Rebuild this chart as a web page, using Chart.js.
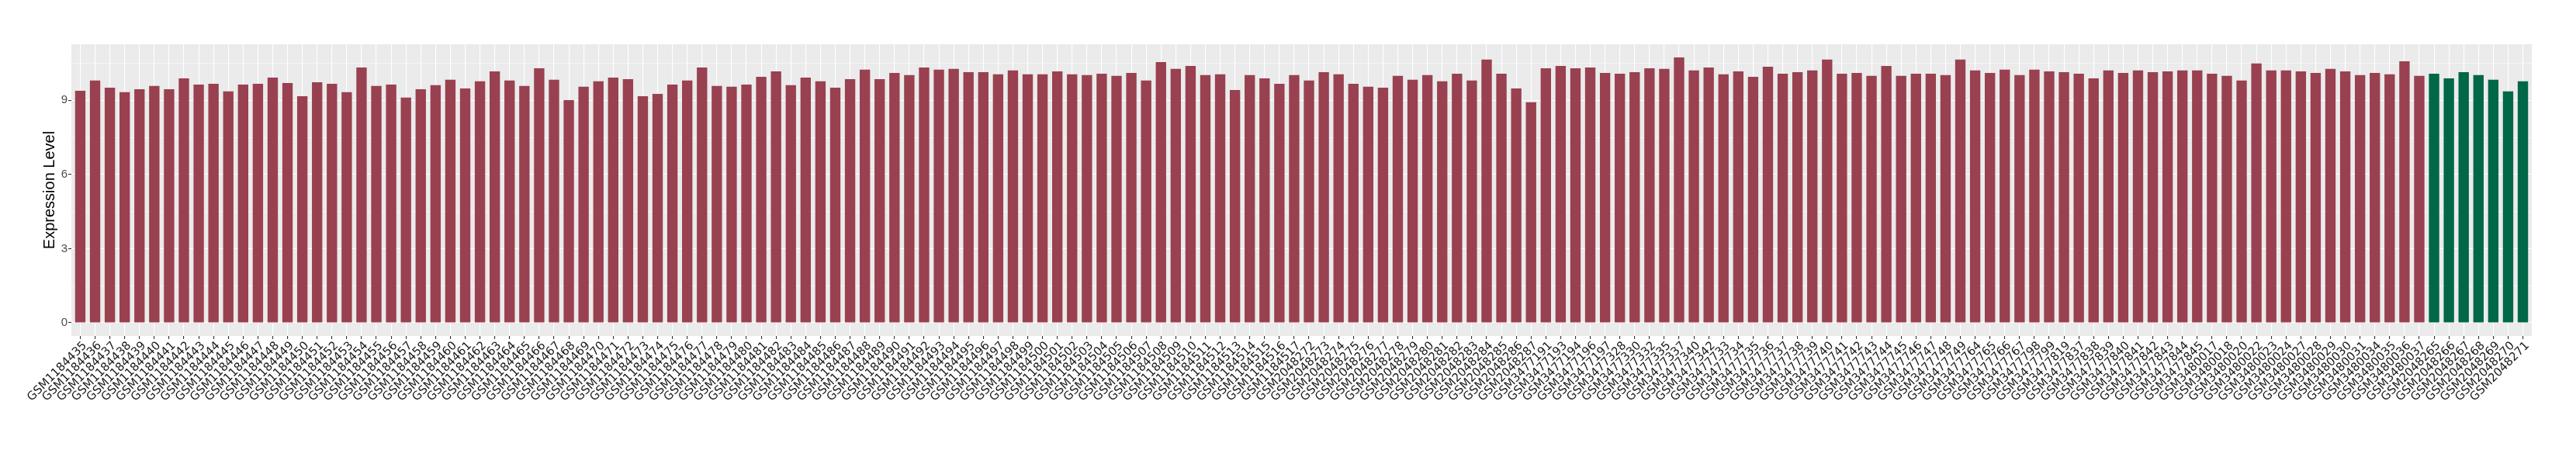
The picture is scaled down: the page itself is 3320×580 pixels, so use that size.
<!DOCTYPE html>
<html>
<head>
<meta charset="utf-8">
<script src="https://cdn.jsdelivr.net/npm/chart.js@4"></script>
<style>
  html, body { margin: 0; padding: 0; background: #ffffff; }
  canvas { display: block; }
</style>
</head>
<body>
<canvas id="expressionChart" width="3320" height="580"></canvas>
<script>
// samples drawn in the first colour
const CASE_SAMPLES = [
  'GSM1184435', 'GSM1184436', 'GSM1184437', 'GSM1184438', 'GSM1184439', 'GSM1184440', 'GSM1184441', 'GSM1184442',
  'GSM1184443', 'GSM1184444', 'GSM1184445', 'GSM1184446', 'GSM1184447', 'GSM1184448', 'GSM1184449', 'GSM1184450',
  'GSM1184451', 'GSM1184452', 'GSM1184453', 'GSM1184454', 'GSM1184455', 'GSM1184456', 'GSM1184457', 'GSM1184458',
  'GSM1184459', 'GSM1184460', 'GSM1184461', 'GSM1184462', 'GSM1184463', 'GSM1184464', 'GSM1184465', 'GSM1184466',
  'GSM1184467', 'GSM1184468', 'GSM1184469', 'GSM1184470', 'GSM1184471', 'GSM1184472', 'GSM1184473', 'GSM1184474',
  'GSM1184475', 'GSM1184476', 'GSM1184477', 'GSM1184478', 'GSM1184479', 'GSM1184480', 'GSM1184481', 'GSM1184482',
  'GSM1184483', 'GSM1184484', 'GSM1184485', 'GSM1184486', 'GSM1184487', 'GSM1184488', 'GSM1184489', 'GSM1184490',
  'GSM1184491', 'GSM1184492', 'GSM1184493', 'GSM1184494', 'GSM1184495', 'GSM1184496', 'GSM1184497', 'GSM1184498',
  'GSM1184499', 'GSM1184500', 'GSM1184501', 'GSM1184502', 'GSM1184503', 'GSM1184504', 'GSM1184505', 'GSM1184506',
  'GSM1184507', 'GSM1184508', 'GSM1184509', 'GSM1184510', 'GSM1184511', 'GSM1184512', 'GSM1184513', 'GSM1184514',
  'GSM1184515', 'GSM1184516', 'GSM1184517',
  'GSM2048272', 'GSM2048273', 'GSM2048274', 'GSM2048275', 'GSM2048276', 'GSM2048277', 'GSM2048278', 'GSM2048279',
  'GSM2048280', 'GSM2048281', 'GSM2048282', 'GSM2048283', 'GSM2048284', 'GSM2048285', 'GSM2048286', 'GSM2048287',
  'GSM3477191', 'GSM3477193', 'GSM3477194', 'GSM3477196', 'GSM3477197', 'GSM3477328', 'GSM3477330', 'GSM3477332',
  'GSM3477335', 'GSM3477337', 'GSM3477340', 'GSM3477342', 'GSM3477733', 'GSM3477734', 'GSM3477735', 'GSM3477736',
  'GSM3477737', 'GSM3477738', 'GSM3477739', 'GSM3477740', 'GSM3477741', 'GSM3477742', 'GSM3477743', 'GSM3477744',
  'GSM3477745', 'GSM3477746', 'GSM3477747', 'GSM3477748', 'GSM3477749', 'GSM3477764', 'GSM3477765', 'GSM3477766',
  'GSM3477767', 'GSM3477798', 'GSM3477799', 'GSM3477819', 'GSM3477837', 'GSM3477838', 'GSM3477839', 'GSM3477840',
  'GSM3477841', 'GSM3477842', 'GSM3477843', 'GSM3477844', 'GSM3477845',
  'GSM3480017', 'GSM3480018', 'GSM3480020', 'GSM3480022', 'GSM3480023', 'GSM3480024', 'GSM3480027', 'GSM3480028',
  'GSM3480029', 'GSM3480030', 'GSM3480031', 'GSM3480034', 'GSM3480035', 'GSM3480036', 'GSM3480037',
];

const CASE_VALUES = [
  9.39, 9.80, 9.51, 9.33, 9.45, 9.58, 9.45, 9.89,
  9.64, 9.67, 9.36, 9.64, 9.67, 9.92, 9.70, 9.17,
  9.73, 9.67, 9.33, 10.33, 9.58, 9.64, 9.11, 9.45,
  9.61, 9.83, 9.48, 9.77, 10.17, 9.80, 9.58, 10.30,
  9.83, 9.01, 9.55, 9.77, 9.92, 9.86, 9.17, 9.26,
  9.64, 9.80, 10.33, 9.58, 9.55, 9.64, 9.95, 10.17,
  9.61, 9.92, 9.77, 9.51, 9.86, 10.24, 9.86, 10.11,
  10.02, 10.33, 10.24, 10.27, 10.14, 10.14, 10.05, 10.21,
  10.05, 10.05, 10.17, 10.05, 10.02, 10.08, 9.99, 10.11,
  9.80, 10.55, 10.27, 10.39, 10.02, 10.05, 9.42, 10.02,
  9.89, 9.67, 10.02,
  9.80, 10.14, 10.05, 9.67, 9.55, 9.51, 9.99, 9.83,
  10.02, 9.77, 10.08, 9.80, 10.65, 10.08, 9.48, 8.92,
  10.30, 10.39, 10.30, 10.33, 10.11, 10.08, 10.14, 10.30,
  10.27, 10.74, 10.21, 10.33, 10.05, 10.17, 9.95, 10.36,
  10.08, 10.14, 10.21, 10.65, 10.08, 10.11, 9.99, 10.39,
  9.99, 10.08, 10.08, 10.02, 10.65, 10.21, 10.11, 10.24,
  10.02, 10.24, 10.17, 10.14, 10.08, 9.89, 10.21, 10.11,
  10.21, 10.14, 10.17, 10.21, 10.21,
  10.08, 9.99, 9.80, 10.49, 10.21, 10.21, 10.17, 10.11,
  10.27, 10.17, 10.02, 10.11, 10.05, 10.58, 9.99,
];

// samples drawn in the second colour
const CONTROL_SAMPLES = [
  'GSM2048265', 'GSM2048266', 'GSM2048267', 'GSM2048268', 'GSM2048269', 'GSM2048270', 'GSM2048271',
];
const CONTROL_VALUES = [10.08, 9.89, 10.14, 10.02, 9.83, 9.36, 9.77];

const Y_GRID = [0, 1.5, 3, 4.5, 6, 7.5, 9, 10.5];
const Y_LABELED = [0, 3, 6, 9];

const CASE_COLOR = '#994150';
const CONTROL_COLOR = '#006747';
const PANEL_BG = '#EBEBEB';
const AXIS_TEXT = '#4D4D4D';

const ALL_SAMPLES = CASE_SAMPLES.concat(CONTROL_SAMPLES);

const toPoints = (values, offset) => values.map((v, i) => ({ x: i + offset, y: v }));

const panelBackground = {
  id: 'panelBackground',
  beforeDraw(chart) {
    const { ctx, chartArea } = chart;
    ctx.save();
    ctx.fillStyle = PANEL_BG;
    ctx.fillRect(chartArea.left, chartArea.top, chartArea.right - chartArea.left, chartArea.bottom - chartArea.top);
    ctx.restore();
  },
};

const BAR_STYLE = {
  barPercentage: 0.7,
  categoryPercentage: 1,
  grouped: false,
  borderWidth: 0,
};

const DATASETS = [
  { label: 'case', data: toPoints(CASE_VALUES, 0), backgroundColor: CASE_COLOR, ...BAR_STYLE },
  { label: 'control', data: toPoints(CONTROL_VALUES, CASE_SAMPLES.length), backgroundColor: CONTROL_COLOR, ...BAR_STYLE },
];

const isMajor = (v) => Y_LABELED.includes(v);

const SCALES = {
  x: {
    type: 'linear',
    offset: false,
    min: -0.6,
    max: ALL_SAMPLES.length - 0.4,
    afterBuildTicks: (scale) => {
      scale.ticks = ALL_SAMPLES.map((_, i) => ({ value: i }));
    },
    afterFit: (scale) => {
      scale.height = 147;
    },
    border: { display: false },
    grid: {
      offset: false,
      color: '#FFFFFF',
      lineWidth: 1.1,
      tickColor: '#333333',
      tickLength: 4,
    },
    ticks: {
      autoSkip: false,
      minRotation: 45,
      maxRotation: 45,
      padding: 0,
      labelOffset: 6,
      color: '#1A1A1A',
      font: { family: 'DejaVu Sans', size: 15 },
      callback: (value) => ALL_SAMPLES[value],
    },
  },
  y: {
    min: -0.535,
    max: 11.27,
    afterBuildTicks: (scale) => {
      scale.ticks = Y_GRID.map((v) => ({ value: v }));
    },
    afterFit: (scale) => {
      scale.width = 92;
    },
    border: { display: false },
    grid: {
      color: '#FFFFFF',
      lineWidth: (ctx) => (ctx.tick && isMajor(ctx.tick.value) ? 1.1 : 0.55),
      tickColor: (ctx) => (ctx.tick && isMajor(ctx.tick.value) ? '#333333' : 'rgba(0,0,0,0)'),
      tickLength: 4,
    },
    ticks: {
      padding: 1,
      color: AXIS_TEXT,
      font: { family: 'Liberation Sans', size: 15 },
      callback: (value) => (isMajor(value) ? String(value) : ''),
    },
    title: {
      display: true,
      text: 'Expression Level',
      color: '#000000',
      font: { family: 'Liberation Sans', size: 20, lineHeight: 1.2 },
      padding: { top: 52, bottom: 0 },
    },
  },
};

new Chart(document.getElementById('expressionChart'), {
  type: 'bar',
  data: { datasets: DATASETS },
  options: {
    responsive: false,
    devicePixelRatio: 1,
    animation: false,
    layout: { padding: { top: 57, right: 57, left: 0, bottom: 0 } },
    plugins: {
      legend: { display: false },
      tooltip: { enabled: false },
      title: { display: false },
    },
    scales: SCALES,
  },
  plugins: [panelBackground],
});
</script>
</body>
</html>
